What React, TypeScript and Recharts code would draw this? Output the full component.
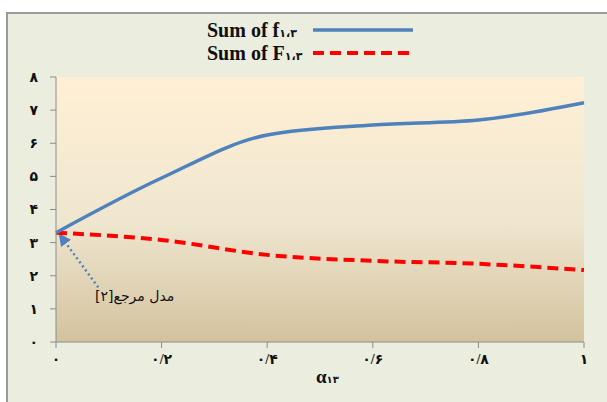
import React from 'react';
import {
  LineChart,
  Line,
  XAxis,
  YAxis,
  CartesianGrid,
  ReferenceLine
} from 'recharts';

// values
const alphaValues = [0, 0.2, 0.4, 0.6, 0.8, 1];
const sumLower = [3.3, 4.95, 6.25, 6.55, 6.7, 7.22];
const sumUpper = [3.3, 3.08, 2.63, 2.45, 2.36, 2.17];

const seriesNames = ['Sum of f', 'Sum of F'];
const seriesSub = '۱،۳';

const xTicks = [0, 0.2, 0.4, 0.6, 0.8, 1];
const xTickLabels = ['۰', '۰/۲', '۰/۴', '۰/۶', '۰/۸', '۱'];
const yTicks = [0, 1, 2, 3, 4, 5, 6, 7, 8];
const yTickLabels = ['۰', '۱', '۲', '۳', '۴', '۵', '۶', '۷', '۸'];

const annotationText = 'مدل مرجع[۲]';
const annotationArrow = [
  { x: 0.08, y: 1.65 },
  { x: 0.008, y: 3.22 }
];

const chartData = alphaValues.map((a, i) => ({
  alpha: a,
  lower: sumLower[i],
  upper: sumUpper[i]
}));

const BLUE = '#4F81BD';
const RED = '#FF0000';
const serif = '"Liberation Serif", "DejaVu Serif", serif';
const tickFont = '"Liberation Serif", "DejaVu Sans", serif';

const App: React.FC = () => {
  const legendRow = (name: string, color: string, dashed: boolean, top: number) => (
    <div style={{ position: 'absolute', left: 207, top, height: 24, display: 'flex', alignItems: 'center' }}>
      <span style={{ fontFamily: serif, fontWeight: 'bold', fontSize: 20, color: '#111', width: 100, whiteSpace: 'nowrap' }}>
        {name}
        <span style={{ fontSize: 11, fontFamily: tickFont }}>{seriesSub}</span>
      </span>
      <svg width={104} height={10} style={{ marginLeft: 4 }}>
        <line
          x1={2}
          y1={5}
          x2={102}
          y2={5}
          stroke={color}
          strokeWidth={dashed ? 4 : 3.5}
          strokeDasharray={dashed ? '11 6' : undefined}
        />
      </svg>
    </div>
  );

  return (
    <div style={{ position: 'absolute', left: 0, top: 0, width: 607, height: 402, background: '#fff', overflow: 'hidden' }}>
      <div
        style={{
          position: 'absolute',
          left: 6,
          top: 12,
          width: 607,
          height: 402,
          background: '#EBEEDF',
          borderLeft: '2px solid #9A9A9A',
          borderTop: '2px solid #9A9A9A'
        }}
      />
      {legendRow(seriesNames[0], BLUE, false, 18)}
      {legendRow(seriesNames[1], RED, true, 41)}
      <div style={{ position: 'absolute', left: 0, top: 0 }}>
        <LineChart
          width={607}
          height={402}
          data={chartData}
          margin={{ top: 77, right: 23, bottom: 30, left: 26 }}
        >
          <defs>
            <linearGradient id="plotBg" x1="0" y1="0" x2="0" y2="1">
              <stop offset="0%" stopColor="#FFF0D5" />
              <stop offset="55%" stopColor="#EFE6CF" />
              <stop offset="100%" stopColor="#D3C29E" />
            </linearGradient>
            <marker id="arrowHead" viewBox="0 0 10 10" refX="8" refY="5" markerWidth="5" markerHeight="5" orient="auto">
              <path d="M0,0 L10,5 L0,10 z" fill={BLUE} />
            </marker>
          </defs>
          <CartesianGrid horizontal={false} vertical={false} fill="url(#plotBg)" stroke="none" />
          <XAxis
            dataKey="alpha"
            type="number"
            domain={[0, 1]}
            ticks={xTicks}
            tickFormatter={(v: number) => xTickLabels[xTicks.indexOf(v)] ?? ''}
            stroke="#8C8C8C"
            tickSize={6}
            tickMargin={6}
            height={30}
            tick={{ fontFamily: tickFont, fontWeight: 'bold', fontSize: 14, fill: '#111' }}
          />
          <YAxis
            type="number"
            domain={[0, 8]}
            ticks={yTicks}
            tickFormatter={(v: number) => yTickLabels[yTicks.indexOf(v)] ?? ''}
            stroke="#8C8C8C"
            tickSize={6}
            tickMargin={12}
            width={30}
            interval={0}
            tick={{ fontFamily: tickFont, fontWeight: 'bold', fontSize: 14, fill: '#111' }}
          />
          <ReferenceLine
            segment={annotationArrow}
            stroke={BLUE}
            strokeWidth={2.5}
            strokeDasharray="2 3"
            markerEnd="url(#arrowHead)"
          />
          <Line
            type="monotone"
            dataKey="upper"
            stroke={RED}
            strokeWidth={4}
            strokeDasharray="11 6"
            dot={false}
            isAnimationActive={false}
          />
          <Line
            type="monotone"
            dataKey="lower"
            stroke={BLUE}
            strokeWidth={3.5}
            dot={false}
            isAnimationActive={false}
          />
        </LineChart>
      </div>
      <div
        dir="rtl"
        style={{ position: 'absolute', left: 95, top: 288, fontFamily: '"DejaVu Sans", serif', fontSize: 14, color: '#111', whiteSpace: 'nowrap' }}
      >
        {annotationText}
      </div>
      <div
        style={{ position: 'absolute', left: 316, top: 366, fontFamily: serif, fontWeight: 'bold', fontSize: 19, color: '#111' }}
      >
        α<span style={{ fontSize: 10, fontFamily: tickFont }}>۱۳</span>
      </div>
    </div>
  );
};

export default App;
